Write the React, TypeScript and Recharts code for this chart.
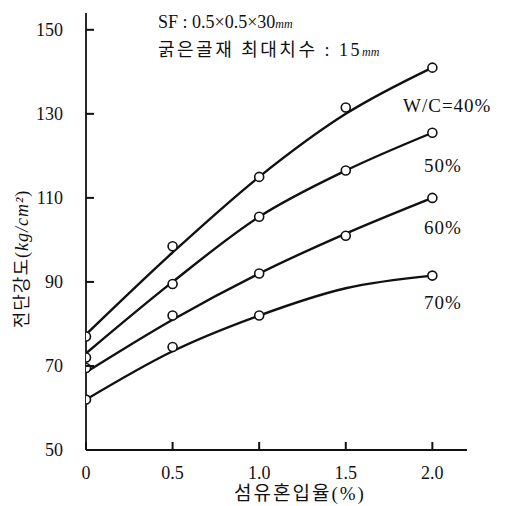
import React from "react";
import { ComposedChart, Line, Scatter, XAxis, YAxis } from "recharts";

// fiber content (%) at which curves were read
const fiberX = [0, 0.5, 1.0, 1.5, 2.0];

// fitted curves
const curve40 = [77.5, 97, 115, 130, 141];
const curve50 = [73, 90, 105.5, 116.5, 125.5];
const curve60 = [68.5, 81, 92, 101.5, 110];
const curve70 = [62, 73.5, 82, 88.5, 91.5];

// measured points
const pts40 = [77, 98.5, 115, 131.5, 141];
const pts50 = [72, 89.5, 105.5, 116.5, 125.5];
const pts60 = [69.5, 82, 92, 101, 110];
const pts70X = [0, 0.5, 1.0, 2.0];
const pts70 = [62, 74.5, 82, 91.5];

const xTicks = [0, 0.5, 1.0, 1.5, 2.0];
const yTicks = [50, 70, 90, 110, 130, 150];

const toRows = (xs: number[], ys: number[]) => xs.map((x, i) => ({ x, y: ys[i] }));

const FONT = "'Liberation Serif', 'Noto Sans CJK KR', serif";
const X_MARGIN = 16;
const Y_MARGIN = 23;

const Dot = (props: any) => {
  const { cx, cy } = props;
  return <circle cx={cx} cy={cy} r={4.5} fill="#fff" stroke="#111" strokeWidth={1.6} />;
};

// tick marks point into the plot
const XTick = (props: any) => {
  const { x, y, payload } = props;
  const v = payload.value;
  const axisY = y - X_MARGIN;
  return (
    <g>
      <path d={`M${x},${axisY}V${axisY - 8}`} stroke="#111" strokeWidth={2} fill="none" />
      <text x={x} y={y} dy="0.71em" textAnchor="middle" fontSize={18} fontFamily={FONT} fill="#111">
        {v === 0 ? "0" : v.toFixed(1)}
      </text>
    </g>
  );
};

const YTick = (props: any) => {
  const { x, y, payload } = props;
  const axisX = x + Y_MARGIN;
  return (
    <g>
      <path d={`M${axisX},${y}H${axisX + 8}`} stroke="#111" strokeWidth={2} fill="none" />
      <text x={x} y={y} dy="0.355em" textAnchor="end" fontSize={18} fontFamily={FONT} fill="#111">
        {payload.value}
      </text>
    </g>
  );
};

const curves = [curve40, curve50, curve60, curve70];
const points = [
  toRows(fiberX, pts40),
  toRows(fiberX, pts50),
  toRows(fiberX, pts60),
  toRows(pts70X, pts70),
];

const App: React.FC = () => {
  return (
    <div style={{ width: 504, height: 498 }}>
      <ComposedChart
        width={504}
        height={498}
        margin={{ top: 5, right: 45, bottom: 26, left: 18 }}
      >
        <XAxis
          type="number"
          dataKey="x"
          domain={[0, 2.2]}
          ticks={xTicks}
          allowDataOverflow
          height={30}
          stroke="#111"
          strokeWidth={1.8}
          tickLine={false}
          tickSize={0}
          tickMargin={X_MARGIN}
          tick={<XTick />}
        />
        <YAxis
          type="number"
          dataKey="y"
          domain={[50, 154]}
          ticks={yTicks}
          allowDataOverflow
          width={60}
          stroke="#111"
          strokeWidth={1.8}
          tickLine={false}
          tickSize={0}
          tickMargin={Y_MARGIN}
          tick={<YTick />}
        />
        {curves.map((c, i) => (
          <Line
            key={"c" + i}
            data={toRows(fiberX, c)}
            dataKey="y"
            type="monotone"
            stroke="#111"
            strokeWidth={2.4}
            dot={false}
            activeDot={false}
            isAnimationActive={false}
          />
        ))}
        {points.map((p, i) => (
          <Scatter
            key={"p" + i}
            data={p}
            dataKey="y"
            shape={<Dot />}
            isAnimationActive={false}
          />
        ))}
        <text x={150} y={20} fontSize={18} fontFamily={FONT} fill="#111">
          SF : 0.5×0.5×30<tspan fontSize={12} fontStyle="italic">mm</tspan>
        </text>
        <text x={150} y={48} fontSize={18} letterSpacing={2.5} fontFamily={FONT} fill="#111">
          굵은골재 최대치수 : 15<tspan fontSize={12} letterSpacing={0} fontStyle="italic">mm</tspan>
        </text>
        <text x={395} y={104} fontSize={19} letterSpacing={1} fontFamily={FONT} fill="#111">W/C=40%</text>
        <text x={416} y={164} fontSize={19} letterSpacing={1} fontFamily={FONT} fill="#111">50%</text>
        <text x={416} y={226} fontSize={19} letterSpacing={1} fontFamily={FONT} fill="#111">60%</text>
        <text x={416} y={301} fontSize={19} letterSpacing={1} fontFamily={FONT} fill="#111">70%</text>
        <text
          x={14}
          y={251}
          fontSize={18}
          letterSpacing={1}
          fontFamily={FONT}
          fill="#111"
          textAnchor="middle"
          dominantBaseline="central"
          transform="rotate(-90 14 251)"
        >
          전단강도(<tspan fontStyle="italic">kg/cm²</tspan>)
        </text>
        <text
          x={292}
          y={485}
          fontSize={19}
          letterSpacing={2}
          fontFamily={FONT}
          fill="#111"
          textAnchor="middle"
          dominantBaseline="central"
        >
          섬유혼입율(%)
        </text>
      </ComposedChart>
    </div>
  );
};

export default App;
